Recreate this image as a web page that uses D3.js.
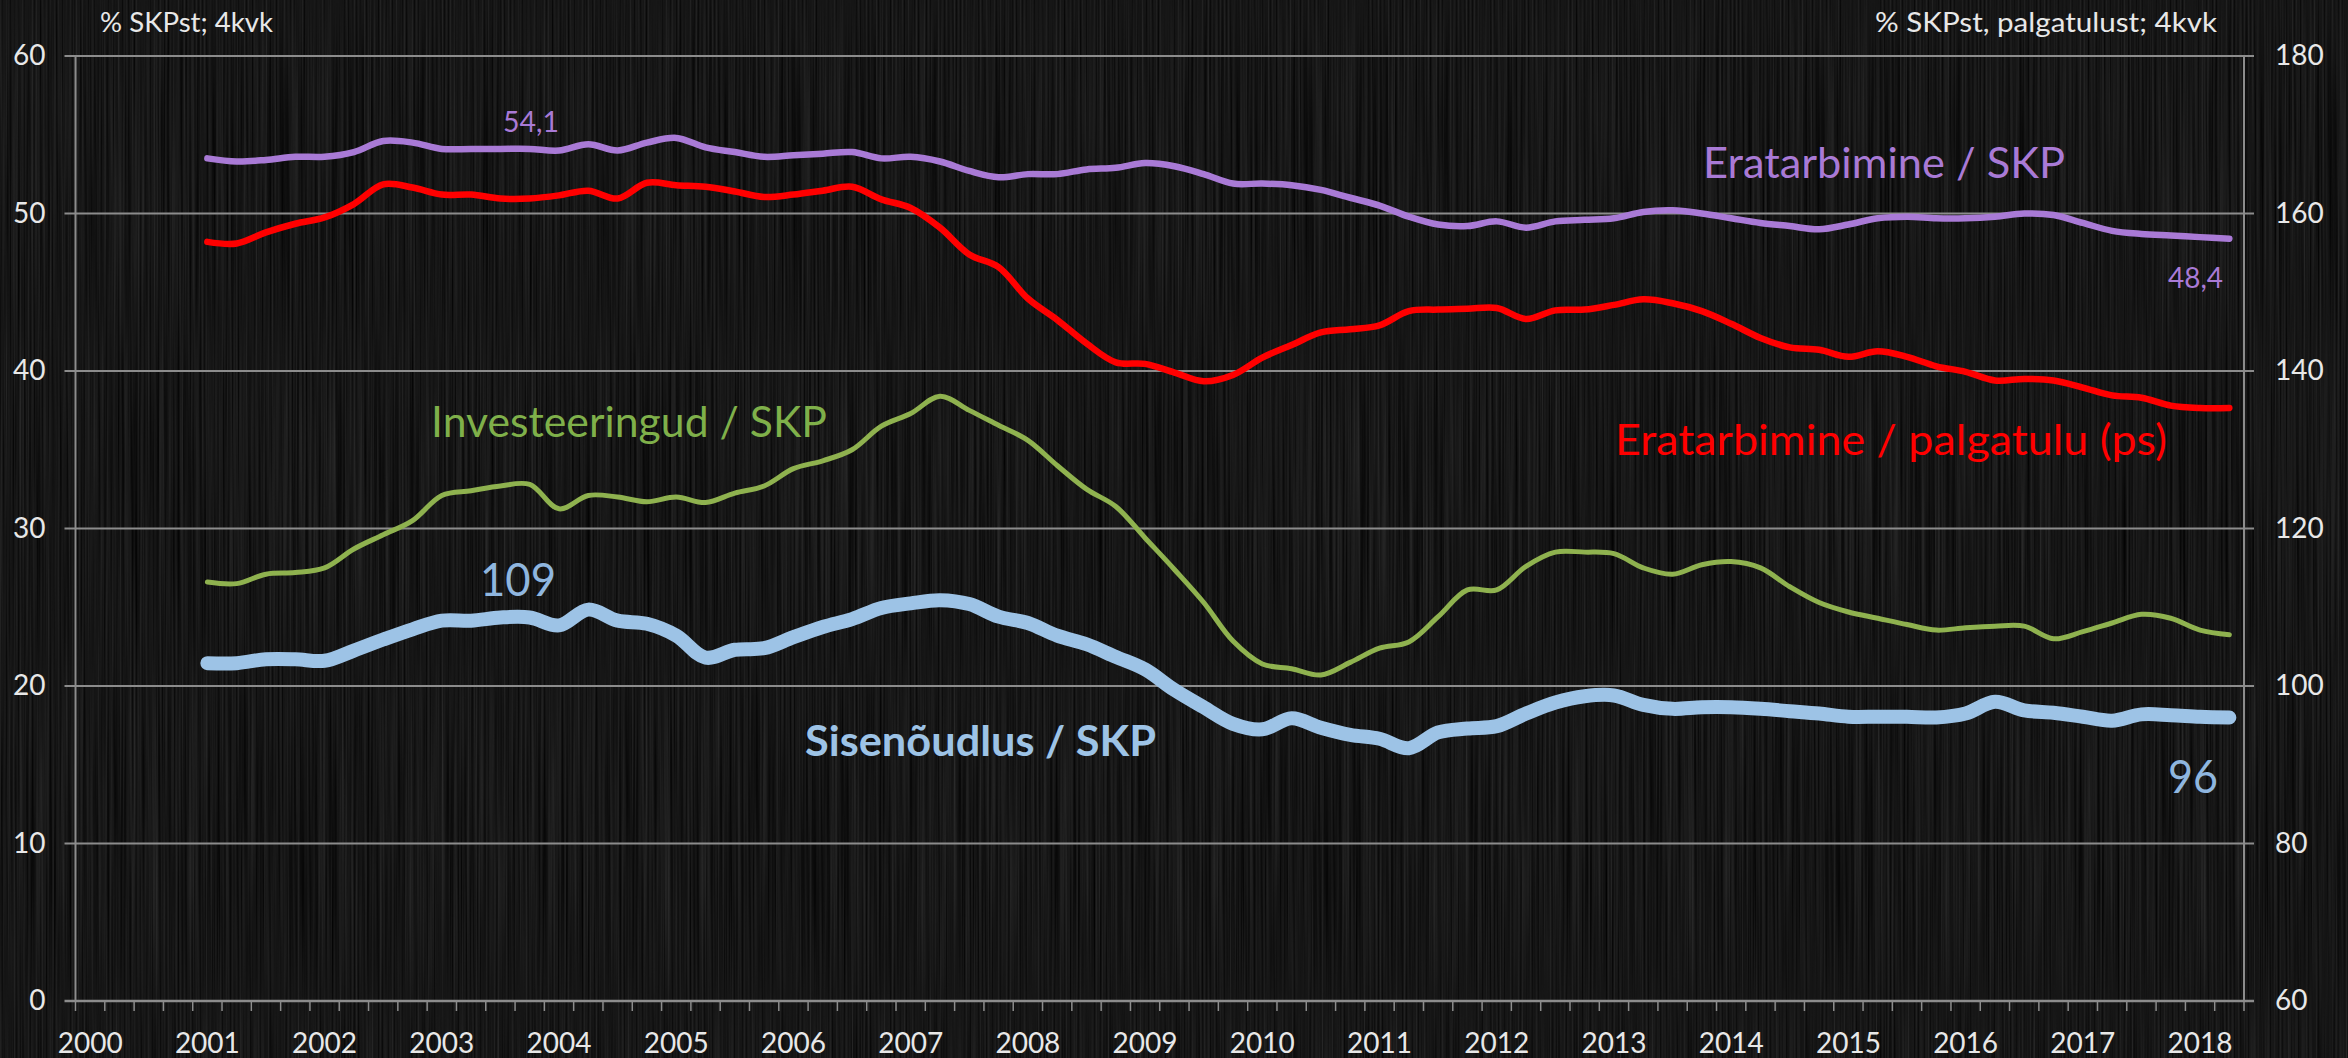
<!DOCTYPE html>
<html><head><meta charset="utf-8">
<script src="https://cdn.jsdelivr.net/npm/d3@7"></script>
<style>
html,body{margin:0;padding:0;background:#141414;}
svg{display:block;}
text{font-family:Lato,"Open Sans",sans-serif;}
</style></head>
<body>
<svg id="chart" width="2348" height="1058"></svg>
<script>
// ---------- DATA ----------
const years = [2000,2001,2002,2003,2004,2005,2006,2007,2008,2009,2010,2011,2012,2013,2014,2015,2016,2017,2018];
const quarterNames = ["Q1","Q2","Q3","Q4"];
const lastQuarter = "2018Q2";
const seriesStart = "2001Q1";

// Eratarbimine / SKP (left axis, %)
const eratarbimineSKP = [53.5,53.3,53.4,53.6, 53.6,53.9,54.6,54.5, 54.1,54.1,54.1,54.1, 54.0,54.4,54.0,54.5,
  54.8,54.2,53.9,53.6, 53.7,53.8,53.9,53.5, 53.6,53.3,52.7,52.3, 52.5,52.5,52.8,52.9, 53.2,53.0,52.5,51.9,
  51.9,51.8,51.5,51.0, 50.5,49.8,49.3,49.2, 49.5,49.1,49.5,49.6, 49.7,50.1,50.2,50.0, 49.7,49.4,49.2,49.0,
  49.3,49.7,49.8,49.7, 49.7,49.8,50.0,49.9, 49.4,48.9,48.7,48.6, 48.5,48.4];
// Eratarbimine / palgatulu (ps) (right axis, %)
const eratarbiminePalgatulu = [156.4,156.2,157.6,158.7, 159.5,161.2,163.7,163.3, 162.4,162.4,161.9,161.9,
  162.3,162.9,161.9,163.9, 163.6,163.4,162.8,162.1, 162.4,162.9,163.4,161.8, 160.7,158.2,154.8,153.2,
  149.2,146.5,143.5,141.1, 140.9,139.8,138.7,139.5, 141.7,143.3,144.9,145.3, 145.8,147.6,147.8,147.9,
  148.0,146.6,147.7,147.8, 148.4,149.1,148.6,147.6, 146.0,144.2,143.0,142.7, 141.8,142.5,141.8,140.6,
  139.9,138.8,139.0,138.8, 137.9,136.9,136.6,135.6, 135.3,135.3];
// Investeeringud / SKP (left axis, %)
const investeeringudSKP = [26.6,26.5,27.1,27.2, 27.5,28.7,29.6,30.5, 32.1,32.4,32.7,32.8, 31.25,32.1,32.0,31.7,
  32.0,31.65,32.25,32.7, 33.8,34.3,35.0,36.5, 37.3,38.4,37.5,36.55, 35.6,34.0,32.5,31.4, 29.4,27.4,25.3,22.85,
  21.4,21.1,20.7,21.5, 22.4,22.8,24.4,26.1, 26.1,27.6,28.5,28.5, 28.4,27.5,27.1,27.7, 27.9,27.5,26.3,25.3,
  24.7,24.3,23.9,23.55, 23.7,23.8,23.8,23.0, 23.45,24.0,24.55,24.3, 23.55,23.25];
// Sisenõudlus / SKP (right axis, %)
const sisenoudlusSKP = [102.9,102.9,103.4,103.4, 103.2,104.5,105.9,107.2, 108.3,108.3,108.7,108.7,
  107.7,109.7,108.3,107.9, 106.4,103.6,104.6,104.8, 106.2,107.5,108.5,109.9, 110.5,110.9,110.4,108.8,
  108.0,106.4,105.3,103.7, 102.1,99.5,97.3,95.2, 94.5,95.9,94.7,93.8, 93.3,92.1,94.1,94.6,
  94.9,96.5,97.9,98.7, 98.8,97.6,97.1,97.3, 97.3,97.1,96.8,96.5, 96.1,96.1,96.1,96.0,
  96.5,98.0,96.9,96.6, 96.1,95.6,96.4,96.3, 96.1,96.0];

const leftTicks = [0,10,20,30,40,50,60];
const rightTicks = [60,80,100,120,140,160,180];
const leftTitle = "% SKPst; 4kvk";
const rightTitle = "% SKPst, palgatulust; 4kvk";

// ---------- BUILD ----------
const categories = [];
years.forEach(y => quarterNames.forEach(q => { const k = y + q; if (categories.length === 0 || categories[categories.length-1] !== lastQuarter) categories.push(k); }));
const startIdx = categories.indexOf(seriesStart);
function toPoints(arr){ return categories.map((c,i) => ({c, v: (i >= startIdx && i - startIdx < arr.length) ? arr[i-startIdx] : null})); }

const svg = d3.select("#chart");
const W = 2348, H = 1058;
const plot = {left:75.5, right:2244, top:56, bottom:1001};

// background brushed texture
const defs = svg.append("defs");
const f = defs.append("filter").attr("id","brushed").attr("x",0).attr("y",0).attr("width","100%").attr("height","100%")
  .attr("color-interpolation-filters","sRGB");
f.append("feTurbulence").attr("type","fractalNoise").attr("baseFrequency","0.5 0.003").attr("numOctaves",3).attr("seed",7).attr("result","n");
f.append("feColorMatrix").attr("type","matrix").attr("values",
  "0.2 0 0 0 -0.015  0.2 0 0 0 -0.015  0.2 0 0 0 -0.015  0 0 0 0 1");
svg.append("rect").attr("width",W).attr("height",H).attr("fill","#161616");
svg.append("rect").attr("width",W).attr("height",H).attr("filter","url(#brushed)");

const x = d3.scaleBand().domain(categories).range([plot.left, plot.right]).padding(0);
const xc = c => x(c) + x.bandwidth()/2;
const yL = d3.scaleLinear().domain([0,60]).range([plot.bottom, plot.top]);
const yR = d3.scaleLinear().domain([60,180]).range([plot.bottom, plot.top]);

const gridColor = "#8c8c8c";
// gridlines
svg.append("g").selectAll("line").data(leftTicks.filter(t => t>0)).join("line")
  .attr("x1", plot.left - 11).attr("x2", plot.right + 10)
  .attr("y1", d => yL(d)).attr("y2", d => yL(d))
  .attr("stroke", gridColor).attr("stroke-width", 2);

// axes vertical lines
svg.append("line").attr("x1",plot.left).attr("x2",plot.left).attr("y1",plot.top).attr("y2",plot.bottom).attr("stroke",gridColor).attr("stroke-width",2);
svg.append("line").attr("x1",plot.right).attr("x2",plot.right).attr("y1",plot.top).attr("y2",plot.bottom).attr("stroke",gridColor).attr("stroke-width",2);

// left axis labels
const axL = svg.append("g").attr("transform",`translate(${plot.left},0)`)
  .call(d3.axisLeft(yL).tickValues(leftTicks).tickSize(0).tickPadding(30));
axL.select(".domain").remove();
axL.selectAll("text").attr("font-size",28).attr("fill","#e8e8e8").attr("font-family","Lato");

// right axis labels
const axR = svg.append("g").attr("transform",`translate(${plot.right},0)`)
  .call(d3.axisRight(yR).tickValues(rightTicks).tickSize(0).tickPadding(31));
axR.select(".domain").remove();
axR.selectAll("text").attr("font-size",28).attr("fill","#e8e8e8").attr("font-family","Lato");

// x axis
const xAxisG = svg.append("g").attr("transform",`translate(0,${plot.bottom})`)
  .call(d3.axisBottom(x).tickValues(years.map(y => y+"Q1")).tickFormat(c => c.slice(0,4)).tickSize(0).tickPadding(32));
xAxisG.select(".domain").remove();
xAxisG.selectAll("text").attr("font-size",28).attr("fill","#e8e8e8").attr("font-family","Lato");
svg.append("line").attr("x1",plot.left-11).attr("x2",plot.right+10).attr("y1",plot.bottom).attr("y2",plot.bottom).attr("stroke",gridColor).attr("stroke-width",2.5);
const boundaries = categories.map(c => x(c)).concat([plot.right]);
svg.append("g").selectAll("line").data(boundaries).join("line")
  .attr("x1", d => d).attr("x2", d => d).attr("y1", plot.bottom).attr("y2", plot.bottom + 10)
  .attr("stroke", gridColor).attr("stroke-width", 1.5);

// axis titles
svg.append("text").attr("x",100).attr("y",32).attr("font-size",27).attr("fill","#e8e8e8")
  .attr("textLength",173).attr("lengthAdjust","spacingAndGlyphs").text(leftTitle);
svg.append("text").attr("x",1875).attr("y",32).attr("font-size",27).attr("fill","#e8e8e8")
  .attr("textLength",342).attr("lengthAdjust","spacingAndGlyphs").text(rightTitle);

// lines
const curve = d3.curveCatmullRom.alpha(0.5);
const lineL = d3.line().defined(d => d.v != null).x(d => xc(d.c)).y(d => yL(d.v)).curve(curve);
const lineR = d3.line().defined(d => d.v != null).x(d => xc(d.c)).y(d => yR(d.v)).curve(curve);
const series = [
  {data: sisenoudlusSKP, line: lineR, color:"#9dc3e6", w:14},
  {data: investeeringudSKP, line: lineL, color:"#8fb24f", w:5},
  {data: eratarbiminePalgatulu, line: lineR, color:"#ff0000", w:6.5},
  {data: eratarbimineSKP, line: lineL, color:"#a97ad6", w:6.5}
];
svg.append("g").selectAll("path").data(series).join("path")
  .attr("d", s => s.line(toPoints(s.data)))
  .attr("fill","none").attr("stroke", s => s.color).attr("stroke-width", s => s.w)
  .attr("stroke-linecap","round").attr("stroke-linejoin","round");

// labels
function label(txt, xpos, ypos, opts){
  const t = svg.append("text").attr("x", xpos).attr("y", ypos).text(txt)
    .attr("font-size", opts.size).attr("fill", opts.color).attr("text-anchor", opts.anchor || "start");
  if (opts.bold) t.attr("font-weight", 700);
  if (opts.len) t.attr("textLength", opts.len).attr("lengthAdjust","spacingAndGlyphs");
  return t;
}
label("54,1", 503, 132, {size:29, color:"#a97ad6", len:56});
label("48,4", 2168, 288, {size:29, color:"#a97ad6", len:55});
label("Eratarbimine / SKP", 1703, 178, {size:42, color:"#a97ad6", len:362});
label("Eratarbimine / palgatulu (ps)", 1615, 455, {size:42, color:"#ff0000", len:552});
label("Investeeringud / SKP", 431, 437, {size:42, color:"#7fb04a", len:396});
label("Sisenõudlus / SKP", 805, 756, {size:42, color:"#9dc3e6", bold:true, len:351});
label("109", 480, 596, {size:46, color:"#8fb6df", len:76});
label("96", 2168, 793, {size:46, color:"#8fb6df", len:50});
</script>
</body></html>
